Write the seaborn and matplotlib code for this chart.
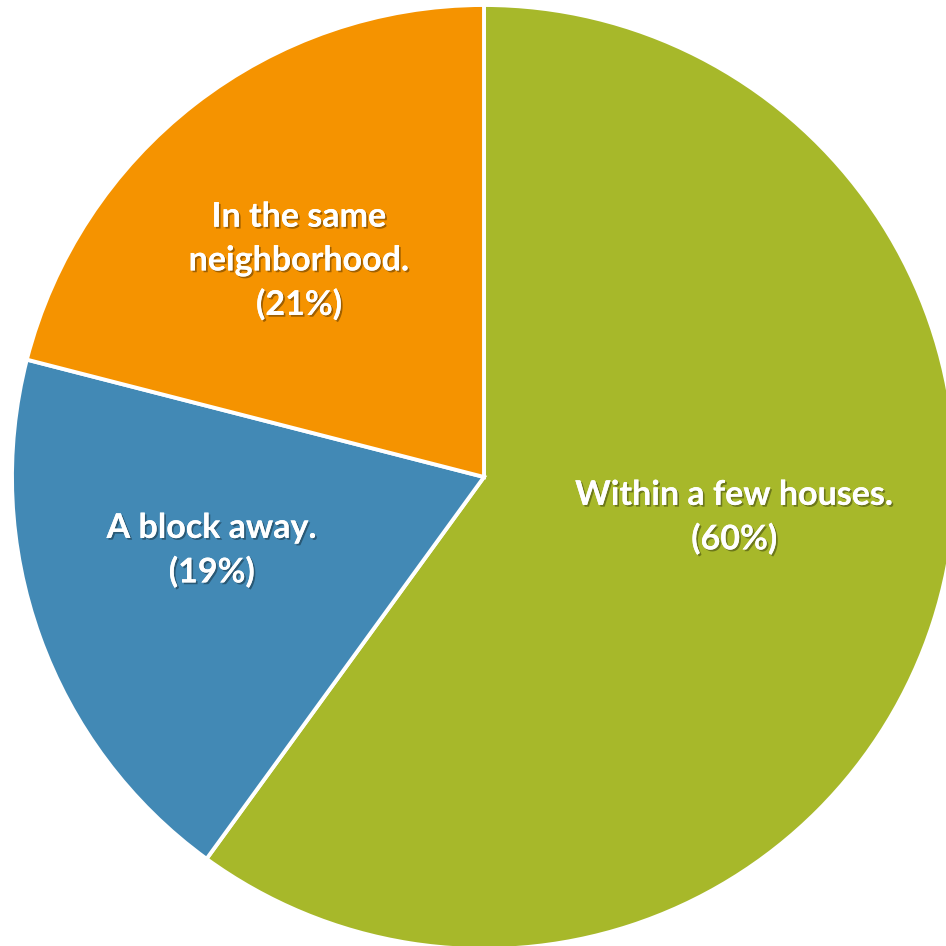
import matplotlib.pyplot as plt
import matplotlib.patheffects as pe
import seaborn as sns

categories = ['Within a few houses.', 'A block away.', 'In the same\nneighborhood.']
shares = [60, 19, 21]
colors = ['#A7B82A', '#4289B5', '#F59300']
# label centres, in units of the pie radius
label_xy = [(0.53, -0.085), (-0.577, -0.155), (-0.392, 0.458)]

sns.set_theme(style="white")
plt.rcParams['font.family'] = ['Lato', 'DejaVu Sans']

fig = plt.figure(figsize=(9.46, 9.46), dpi=100)
ax = fig.add_axes([0, 0, 1, 1])

wedges, _ = ax.pie(
    shares,
    colors=colors,
    startangle=90,
    counterclock=False,
    radius=1,
    wedgeprops=dict(edgecolor='white', linewidth=2.8),
)

shadow = [pe.withSimplePatchShadow(offset=(1.3, -1.3), shadow_rgbFace='black', alpha=0.35),
          pe.Normal()]
for cat, val, (x, y) in zip(categories, shares, label_xy):
    ax.text(x, y, f"{cat}\n({val}%)", ha='center', va='center', color='white',
            fontsize=24.5, fontweight='bold', linespacing=1.45, path_effects=shadow)

ax.set_xlim(-1.0254, 0.9788)
ax.set_ylim(-0.9936, 1.0106)
ax.set_aspect('equal')
ax.axis('off')

plt.savefig('out.png', dpi=100)
plt.close()
